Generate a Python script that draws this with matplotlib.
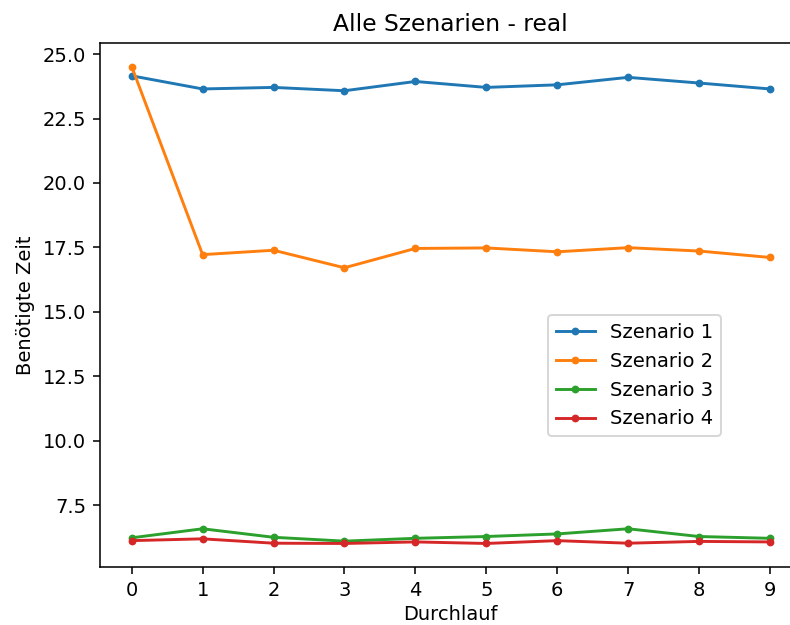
import numpy as np
from matplotlib import pyplot as plt

#### Daten
durchlauf = np.arange(10)
szenario1 = [24.16, 23.65, 23.71, 23.58, 23.94, 23.71, 23.81, 24.10, 23.88, 23.65]
szenario2 = [24.52, 17.22, 17.39, 16.71, 17.46, 17.48, 17.33, 17.49, 17.36, 17.11]
szenario3 = [6.23, 6.58, 6.25, 6.10, 6.21, 6.28, 6.38, 6.58, 6.28, 6.21]
szenario4 = [6.12, 6.19, 6.02, 6.01, 6.07, 6.01, 6.12, 6.02, 6.09, 6.07]
namen = ['Szenario 1', 'Szenario 2', 'Szenario 3', 'Szenario 4']

### Grafik (rechter Rand ist im Original abgeschnitten)
fig, ax = plt.subplots(figsize=(790 / 140, 625 / 140), dpi=140)
fig.subplots_adjust(left=0.1263, right=1.015, top=0.9317, bottom=0.0923)

for werte, name in zip([szenario1, szenario2, szenario3, szenario4], namen):
    ax.plot(durchlauf, werte, marker='.', label=name)

ax.set_xticks(durchlauf)
ax.set_title('Alle Szenarien - real')
ax.set_xlabel('Durchlauf', labelpad=2.5)
ax.set_ylabel('Benötigte Zeit')
ax.legend(loc='center', bbox_to_anchor=(0.762, 0.365))
plt.savefig('out.png', dpi=140)
